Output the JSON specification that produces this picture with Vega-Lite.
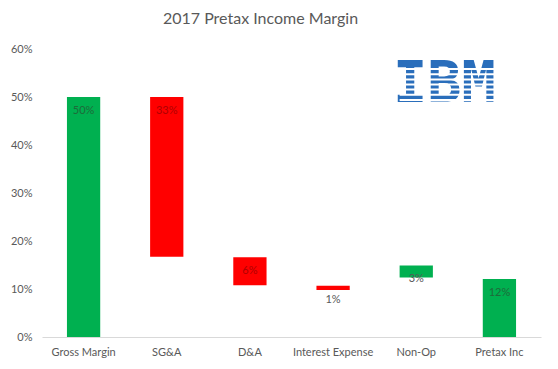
{
  "$schema": "https://vega.github.io/schema/vega-lite/v6.json",
  "autosize": "none",
  "width": 499,
  "height": 288,
  "padding": {"left": 42, "top": 49, "right": 17, "bottom": 32},
  "background": "white",
  "title": {
    "text": "2017 Pretax Income Margin",
    "font": "Lato",
    "fontSize": 16,
    "fontWeight": "normal",
    "color": "#595959",
    "anchor": "middle",
    "dx": -31,
    "offset": 16
  },
  "config": {
    "view": {"stroke": null},
    "font": "Lato"
  },
  "data": {
    "values": [
      {"cat": "Gross Margin", "lo": 0, "hi": 0.5, "label": "50%", "type": "total"},
      {"cat": "SG&A", "lo": 0.167, "hi": 0.5, "label": "33%", "type": "decrease"},
      {"cat": "D&A", "lo": 0.108, "hi": 0.166, "label": "6%", "type": "decrease"},
      {"cat": "Interest Expense", "lo": 0.098, "hi": 0.107, "label": "1%", "type": "decrease"},
      {"cat": "Non-Op", "lo": 0.124, "hi": 0.149, "label": "3%", "type": "increase"},
      {"cat": "Pretax Inc", "lo": 0, "hi": 0.121, "label": "12%", "type": "total"}
    ]
  },
  "encoding": {
    "x": {
      "field": "cat",
      "type": "nominal",
      "sort": null,
      "scale": {"paddingInner": 0.6, "paddingOuter": 0.3},
      "axis": {
        "title": null,
        "labelAngle": 0,
        "labelFont": "Lato",
        "labelFontSize": 11,
        "labelColor": "#595959",
        "labelPadding": 9,
        "ticks": false,
        "domainColor": "#D9D9D9",
        "domainWidth": 1
      }
    }
  },
  "layer": [
    {
      "mark": {"type": "bar"},
      "encoding": {
        "y": {
          "field": "lo",
          "type": "quantitative",
          "scale": {"domain": [0, 0.6]},
          "axis": {
            "title": null,
            "format": ".0%",
            "values": [0, 0.1, 0.2, 0.3, 0.4, 0.5, 0.6],
            "labelOverlap": false,
            "grid": false,
            "domain": false,
            "ticks": false,
            "labelFont": "Lato",
            "labelFontSize": 11,
            "labelColor": "#595959",
            "labelPadding": 10
          }
        },
        "y2": {"field": "hi"},
        "color": {
          "field": "type",
          "type": "nominal",
          "scale": {"domain": ["total", "increase", "decrease"], "range": ["#00B050", "#00B050", "#FF0000"]},
          "legend": null
        }
      }
    },
    {
      "mark": {"type": "text", "dy": 14, "fontSize": 11, "baseline": "middle"},
      "encoding": {
        "y": {"field": "hi", "type": "quantitative"},
        "text": {"field": "label"},
        "color": {
          "condition": [
            {"test": "datum.cat === 'SG&A' || datum.cat === 'D&A'", "value": "#B00000"},
            {"test": "datum.cat === 'Gross Margin' || datum.cat === 'Pretax Inc'", "value": "#1E6B3A"}
          ],
          "value": "#595959"
        }
      }
    },
    {
      "data": {"values": [{"logo": "IBM"}]},
      "mark": {"type": "text", "font": "DejaVu Sans Mono", "fontWeight": "bold", "fontSize": 57, "baseline": "middle", "align": "center", "dx": -55, "color": "#2A6EBB"},
      "encoding": {
        "x": {"datum": "Pretax Inc"},
        "y": {"datum": 0.526},
        "text": {"field": "logo"}
      }
    },
    {
      "data": {"values": [{"stripe": 0.5581}, {"stripe": 0.5473}, {"stripe": 0.5367}, {"stripe": 0.526}, {"stripe": 0.5154}, {"stripe": 0.5048}, {"stripe": 0.4939}]},
      "mark": {"type": "rule", "color": "white", "strokeWidth": 2},
      "encoding": {
        "x": {"datum": "Non-Op", "bandPosition": 0},
        "x2": {"datum": "Pretax Inc", "bandPosition": 1},
        "y": {"field": "stripe", "type": "quantitative"}
      }
    }
  ]
}
